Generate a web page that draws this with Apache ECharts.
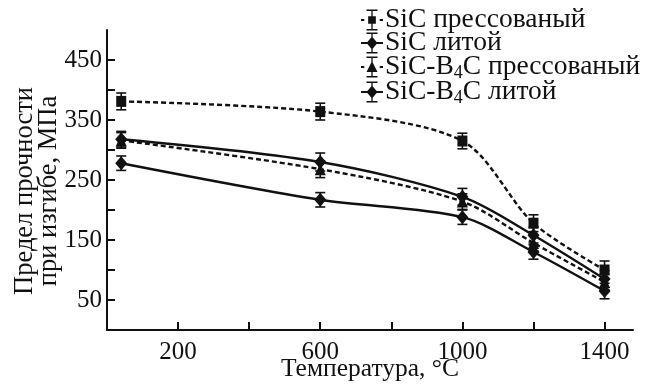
<!DOCTYPE html>
<html>
<head>
<meta charset="utf-8">
<script src="https://cdn.jsdelivr.net/npm/echarts@6/dist/echarts.min.js"></script>
<style>
  html, body { margin: 0; padding: 0; background: #fff; }
  #chart { width: 655px; height: 387px; }
</style>
</head>
<body>
<div id="chart"></div>
<script>
// temperatures, °C
const temps = [40, 600, 1000, 1200, 1400];

// bending strength, MPa
const sicPressed = [381, 364, 315, 178, 100];
const sicCast = [318, 280, 222, 158, 85];
const b4cPressed = [316, 268, 214, 145, 80];
const b4cCast = [278, 217, 188, 130, 65];

// error bars (half height), MPa
const sicPressedErr = [14, 14, 13, 14, 15];
const sicCastErr = [13, 15, 14, 13, 14];
const b4cPressedErr = [13, 14, 13, 13, 13];
const b4cCastErr = [12, 12, 12, 12, 13];

const seriesNames = ['SiC прессованый', 'SiC литой', 'SiC-B4C прессованый', 'SiC-B4C литой'];

const xTicks = [200, 400, 600, 800, 1000, 1200, 1400];
const xLabels = [200, 600, 1000, 1400];
const yTicks = [50, 100, 150, 200, 250, 300, 350, 400, 450];
const yLabels = [50, 150, 250, 350, 450];

const ink = '#111';
const font = 'Liberation Serif';

// legend icons: line piece + error bar + marker
const capsAndBar = 'M9.4 1h1.2v18h-1.2Z M5 0.4h10v1.4h-10Z M5 18.2h10v1.4h-10Z';
const dashedLine = 'M0 9.2h3v1.6h-3Z M17 9.2h3v1.6h-3Z';
const solidLine = 'M0 9.2h20v1.6h-20Z';
const iconSquare = 'path://' + dashedLine + capsAndBar + 'M6.5 6.5h7v7h-7Z';
const iconDiamond = 'path://' + solidLine + capsAndBar + 'M10 4.2L15 10L10 15.8L5 10Z';
const iconTriangle = 'path://' + dashedLine + capsAndBar + 'M10 4.5L15 14.5L5 14.5Z';

function zip(vals) {
  return temps.map((t, i) => [t, vals[i]]);
}

function lineSeries(name, vals, symbol, size, dashed) {
  return {
    name: name,
    type: 'line',
    data: zip(vals),
    smooth: 0.3,
    symbol: symbol,
    symbolSize: size,
    itemStyle: { color: ink },
    lineStyle: { color: ink, width: 2.4, type: dashed ? [5, 3] : 'solid' },
    z: 3
  };
}

function errorSeries(vals, errs) {
  return {
    type: 'custom',
    data: temps.map((t, i) => [t, vals[i], errs[i]]),
    encode: { x: 0, y: 1 },
    silent: true,
    z: 2,
    renderItem: function (params, api) {
      const x = api.value(0), y = api.value(1), e = api.value(2);
      const top = api.coord([x, y + e]);
      const bot = api.coord([x, y - e]);
      const w = 5;
      const st = { stroke: ink, lineWidth: 1.6 };
      return {
        type: 'group',
        children: [
          { type: 'line', shape: { x1: top[0], y1: top[1], x2: bot[0], y2: bot[1] }, style: st },
          { type: 'line', shape: { x1: top[0] - w, y1: top[1], x2: top[0] + w, y2: top[1] }, style: st },
          { type: 'line', shape: { x1: bot[0] - w, y1: bot[1], x2: bot[0] + w, y2: bot[1] }, style: st }
        ]
      };
    }
  };
}

const chart = echarts.init(document.getElementById('chart'));

chart.setOption({
  animation: false,
  backgroundColor: '#fff',
  grid: { left: 107, top: 30, right: 22, bottom: 57, containLabel: false, outerBoundsMode: 'none' },
  legend: {
    orient: 'vertical',
    left: 356,
    top: 1,
    itemWidth: 22,
    itemHeight: 22,
    itemGap: -5,
    selectedMode: false,
    itemStyle: { borderWidth: 0 },
    data: [
      { name: seriesNames[0], icon: iconSquare },
      { name: seriesNames[1], icon: iconDiamond },
      { name: seriesNames[2], icon: iconTriangle },
      { name: seriesNames[3], icon: iconDiamond }
    ],
    formatter: function (name) {
      return name.replace('B4C', 'B{sub|4}C');
    },
    textStyle: {
      fontFamily: font,
      fontSize: 27.5,
      lineHeight: 22,
      color: ink,
      padding: [0, 0, 0, -3],
      rich: {
        sub: { fontFamily: font, fontSize: 18, lineHeight: 12, padding: [12, 0, 0, 0], color: ink }
      }
    }
  },
  xAxis: {
    type: 'value',
    min: 0,
    max: 1480,
    name: 'Температура, °C',
    nameLocation: 'middle',
    nameGap: 26,
    nameMoveOverlap: false,
    nameTextStyle: { fontFamily: font, fontSize: 25.5, color: ink },
    axisLine: { lineStyle: { color: ink, width: 2 } },
    axisTick: { inside: true, length: 8, lineStyle: { color: ink, width: 2 }, customValues: xTicks },
    axisLabel: { fontFamily: font, fontSize: 25, color: ink, margin: 10, customValues: xLabels, formatter: v => String(v) },
    splitLine: { show: false }
  },
  yAxis: {
    type: 'value',
    min: 0,
    max: 500,
    name: 'Предел прочности\nпри изгибе, МПа',
    nameLocation: 'middle',
    nameGap: 46,
    nameMoveOverlap: false,
    nameTextStyle: { fontFamily: font, fontSize: 26.5, lineHeight: 24, color: ink, padding: [0, 22, 0, 0] },
    axisLine: { lineStyle: { color: ink, width: 2 } },
    axisTick: { inside: true, length: 8, lineStyle: { color: ink, width: 2 }, customValues: yTicks },
    axisLabel: { fontFamily: font, fontSize: 25, color: ink, margin: 5, customValues: yLabels, formatter: v => String(v) },
    splitLine: { show: false }
  },
  series: [
    errorSeries(sicPressed, sicPressedErr),
    errorSeries(sicCast, sicCastErr),
    errorSeries(b4cPressed, b4cPressedErr),
    errorSeries(b4cCast, b4cCastErr),
    lineSeries(seriesNames[0], sicPressed, 'rect', [10, 11], true),
    lineSeries(seriesNames[1], sicCast, 'diamond', [12, 14], false),
    lineSeries(seriesNames[2], b4cPressed, 'triangle', [11, 12], true),
    lineSeries(seriesNames[3], b4cCast, 'diamond', [12, 14], false)
  ]
});
</script>
</body>
</html>
